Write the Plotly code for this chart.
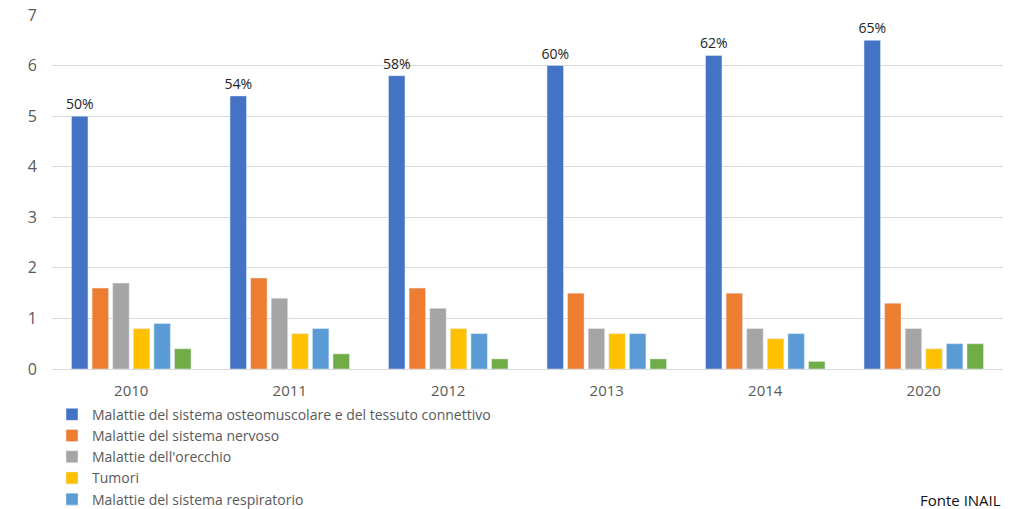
import plotly.graph_objects as go

years = ["2010", "2011", "2012", "2013", "2014", "2020"]
osteo = [5.0, 5.4, 5.8, 6.0, 6.2, 6.5]
nervoso = [1.6, 1.8, 1.6, 1.5, 1.5, 1.3]
orecchio = [1.7, 1.4, 1.2, 0.8, 0.8, 0.8]
tumori = [0.8, 0.7, 0.8, 0.7, 0.6, 0.4]
respiratorio = [0.9, 0.8, 0.7, 0.7, 0.7, 0.5]
altre = [0.4, 0.3, 0.2, 0.2, 0.15, 0.5]
osteo_labels = ["50%", "54%", "58%", "60%", "62%", "65%"]

series = [
    ("Malattie del sistema osteomuscolare e del tessuto connettivo", osteo, "#4472C4", True),
    ("Malattie del sistema nervoso", nervoso, "#ED7D31", True),
    ("Malattie dell'orecchio", orecchio, "#A5A5A5", True),
    ("Tumori", tumori, "#FFC000", True),
    ("Malattie del sistema respiratorio", respiratorio, "#5B9BD5", True),
    ("Altre malattie", altre, "#70AD47", False),
]

fig = go.Figure()
for i, (name, vals, color, show) in enumerate(series):
    kw = {}
    if i == 0:
        kw = dict(text=osteo_labels, textposition="outside",
                  constraintext="none",
                  textfont=dict(color="#222222", size=14, family="Open Sans"),
                  cliponaxis=False)
    fig.add_trace(go.Bar(x=years, y=vals, name=name, marker_color=color,
                         showlegend=show, **kw))

fig.update_layout(
    width=1017, height=509,
    margin=dict(l=52, r=14, t=15, b=140, autoexpand=False),
    plot_bgcolor="white", paper_bgcolor="white",
    barmode="group", bargap=0.22, bargroupgap=0.2,
    font=dict(family="Open Sans", size=15, color="#595959"),
    xaxis=dict(showgrid=False, showline=True, linecolor="#d9d9d9",
               tickfont=dict(size=15, color="#595959"), ticks="",
               ticklabelstandoff=8),
    yaxis=dict(range=[0, 7], dtick=1, showgrid=True, gridcolor="#d9d9d9",
               zeroline=False, tickfont=dict(size=16, color="#595959"),
               ticklabelstandoff=14),
    legend=dict(orientation="v", x=0.0, y=-0.084, xanchor="left", yanchor="top",
                font=dict(size=14, color="#595959"), itemwidth=30,
                traceorder="normal", tracegroupgap=0, bgcolor="rgba(0,0,0,0)"),
    annotations=[dict(text="Fonte INAIL", xref="paper", yref="paper",
                      x=1.0, y=-0.37, xanchor="right", yanchor="middle",
                      showarrow=False, font=dict(size=15, color="#111111"))],
)

fig.write_html("out.html")
